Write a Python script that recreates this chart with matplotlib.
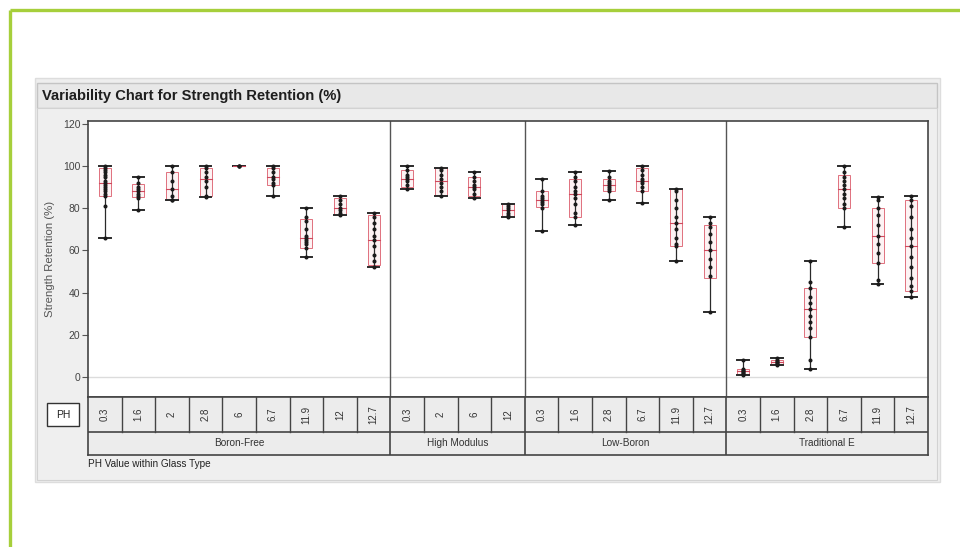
import matplotlib
matplotlib.use("Agg")
import matplotlib.pyplot as plt
from matplotlib.patches import Rectangle

plt.rcParams['font.family'] = ['Liberation Sans', 'DejaVu Sans']

# ---- data -------------------------------------------------------------
glass_types = ["Boron-Free", "High Modulus", "Low-Boron", "Traditional E"]
ph_labels = [
    ["0.3", "1.6", "2", "2.8", "6", "6.7", "11.9", "12", "12.7"],
    ["0.3", "2", "6", "12"],
    ["0.3", "1.6", "2.8", "6.7", "11.9", "12.7"],
    ["0.3", "1.6", "2.8", "6.7", "11.9", "12.7"],
]

# observed strength retention (%) per PH cell, in plotting order
boron_free_points = [
    [100, 99, 98, 97, 96, 95, 93, 92, 91, 90, 89, 88, 87, 86, 81, 66],
    [95, 92, 90, 89, 88, 87, 86, 85, 79],
    [100, 97, 93, 89, 86, 84, 84],
    [100, 99, 97, 95, 93, 90, 86, 85.5],
    [100, 100, 100],
    [100, 99, 97, 95, 94, 92, 91, 86],
    [80, 76, 74, 70, 67, 66, 65, 64, 63, 61, 57],
    [86, 84, 82, 80, 79, 78, 77],
    [78, 76, 73, 70, 67, 65, 62, 58, 55, 52],
]
high_modulus_points = [
    [100, 98, 96, 95, 94, 93, 91, 89],
    [99, 98, 96, 94, 92, 90, 88, 86],
    [97, 95, 93, 91, 90, 89, 87, 85],
    [82, 81, 80, 79, 78, 77, 76],
]
low_boron_points = [
    [94, 88, 86, 85, 84, 83, 82, 80, 69],
    [97, 95, 93, 90, 88, 87, 85, 82, 78, 76, 72],
    [97.5, 95, 93, 92, 91, 90, 89, 88, 84],
    [100, 98, 96, 94, 93, 92, 90, 88, 82.5],
    [89, 88, 84, 80, 76, 73, 70, 66, 63, 62, 55],
    [76, 73, 71, 68, 64, 60, 56, 52, 48, 31],
]
traditional_e_points = [
    [8, 4, 3.5, 3, 2.5, 2, 1.5, 1],
    [9, 8, 7.5, 7, 6.5, 6, 5.7],
    [55, 45, 42, 38, 35, 32, 29, 26, 23, 19, 8, 4],
    [100, 97, 95, 93, 91, 89, 87, 85, 82, 80, 71],
    [85.5, 84, 80, 77, 72, 67, 63, 59, 54, 46, 44],
    [86, 84, 81, 76, 70, 66, 62, 57, 52, 47, 43, 41, 38],
]

# box plot quartiles (q1, median, q3) per cell
boron_free_box = [(86, 92, 99), (85.5, 88, 91.5), (84, 89, 97), (86, 94, 99),
                  (100, 100, 100), (91, 95, 99), (61, 66, 75), (77, 80, 85),
                  (53, 65, 77)]
high_modulus_box = [(90, 94, 98), (86.5, 93, 99), (86, 90, 95), (76.5, 79, 82)]
low_boron_box = [(80.5, 84, 88), (76, 87, 94), (88, 91, 94), (88, 93, 99),
                 (62, 73, 89), (47, 60, 72)]
traditional_e_box = [(1.5, 3, 4), (6, 7, 8), (19, 32, 42), (80, 89, 96),
                     (54, 67, 80), (41, 62, 84)]

y_ticks = [0, 20, 40, 60, 80, 100, 120]

all_points = boron_free_points + high_modulus_points + low_boron_points + traditional_e_points
all_boxes = boron_free_box + high_modulus_box + low_boron_box + traditional_e_box
group_sizes = [len(p) for p in ph_labels]
n_cells = sum(group_sizes)

# ---- figure & layout helpers -----------------------------------------
W, H = 960, 547
fig = plt.figure(figsize=(W / 100, H / 100), dpi=100)


def px_rect(x0, y0, x1, y1):
    return [x0 / W, 1 - y1 / H, (x1 - x0) / W, (y1 - y0) / H]


# background canvas in pixel coordinates
bg = fig.add_axes([0, 0, 1, 1])
bg.set_xlim(0, W)
bg.set_ylim(H, 0)
bg.axis("off")

green = "#a6cf3b"
bg.plot([10, W], [10, 10], color=green, lw=2.4, solid_capstyle="butt")
bg.plot([10, 10], [10, H], color=green, lw=2.4, solid_capstyle="butt")

# gray report panel
bg.add_patch(Rectangle((35, 78), 905, 404, facecolor="#eeeeee",
                       edgecolor="#dddddd", lw=1))
bg.add_patch(Rectangle((37, 83), 900, 25, facecolor="#e8e8e8",
                       edgecolor="#c4c4c4", lw=1))
bg.add_patch(Rectangle((37, 108), 900, 372, facecolor="#efefef",
                       edgecolor="#d2d2d2", lw=0.8))
bg.text(42, 96, "Variability Chart for Strength Retention (%)", fontsize=10.6,
        fontweight="bold", color="#1e1e1e", ha="left", va="center")

# PH key box
bg.add_patch(Rectangle((47, 403), 32, 23, facecolor="white",
                       edgecolor="#333333", lw=1))
bg.text(63, 414.5, "PH", fontsize=7.5, color="#222222", ha="center", va="center")
bg.text(88, 464, "PH Value within Glass Type", fontsize=7.2, color="#222222",
        ha="left", va="center")

# ---- main plot area ----------------------------------------------------
ax = fig.add_axes(px_rect(88, 121, 928, 397))
ax.set_xlim(0, n_cells)
ax.set_ylim(-9.5, 121.4)
ax.set_facecolor("white")
for s in ax.spines.values():
    s.set_color("#444444")
    s.set_linewidth(1.2)
ax.set_xticks([])
ax.set_yticks(y_ticks)
ax.tick_params(axis="y", length=4, width=0.8, color="#555555",
               labelsize=7.5, labelcolor="#444444", pad=1.5)
ax.set_ylabel("Strength Retention (%)", fontsize=8.2, color="#555555", labelpad=6)
ax.axhline(0, color="#dcdcdc", lw=1, zorder=0)

# group separators
edge = 0
for g in group_sizes[:-1]:
    edge += g
    ax.axvline(edge, color="#555555", lw=1.0, zorder=1)

box_w = 0.36
cap_w = 0.34
for i, (pts, (q1, med, q3)) in enumerate(zip(all_points, all_boxes)):
    xc = i + 0.5
    lo, hi = min(pts), max(pts)
    # range bar
    ax.plot([xc, xc], [lo, hi], color="#2a2a2a", lw=0.9, zorder=3)
    ax.plot([xc - cap_w / 2, xc + cap_w / 2], [lo, lo], color="#2a2a2a", lw=1.4, zorder=3)
    ax.plot([xc - cap_w / 2, xc + cap_w / 2], [hi, hi], color="#2a2a2a", lw=1.4, zorder=3)
    # box plot
    if q3 > q1:
        ax.add_patch(Rectangle((xc - box_w / 2, q1), box_w, q3 - q1,
                               facecolor="#fdf3f4", edgecolor="#e0707e",
                               lw=0.7, zorder=2))
    ax.plot([xc - box_w / 2, xc + box_w / 2], [med, med], color="#cf4a5e",
            lw=0.8, zorder=3)
    # observations
    ax.plot([xc] * len(pts), pts, "o", color="#1a1a1a", ms=1.9, zorder=4)

# ---- category header rows ---------------------------------------------
cat = fig.add_axes(px_rect(88, 397, 928, 455))
cat.set_xlim(0, n_cells)
cat.set_ylim(0, 1)
cat.set_facecolor("#ececec")
for s in cat.spines.values():
    s.set_color("#444444")
    s.set_linewidth(1.2)
cat.set_xticks([])
cat.set_yticks([])
split = 23 / 58  # glass-type row height fraction
cat.axhline(split, color="#444444", lw=1.2)

pos = 0
for gname, labels in zip(glass_types, ph_labels):
    for j, lab in enumerate(labels):
        xc = pos + j + 0.5
        cat.text(xc, (1 + split) / 2, lab, rotation=90, fontsize=7,
                 color="#333333", ha="center", va="center")
        if j > 0:
            cat.plot([pos + j, pos + j], [split, 1], color="#444444", lw=1.0)
    cat.text(pos + len(labels) / 2, split / 2, gname, fontsize=7.2,
             color="#333333", ha="center", va="center")
    pos += len(labels)
    if pos < n_cells:
        cat.plot([pos, pos], [0, 1], color="#444444", lw=1.2)

fig.savefig("out.png", dpi=100)
